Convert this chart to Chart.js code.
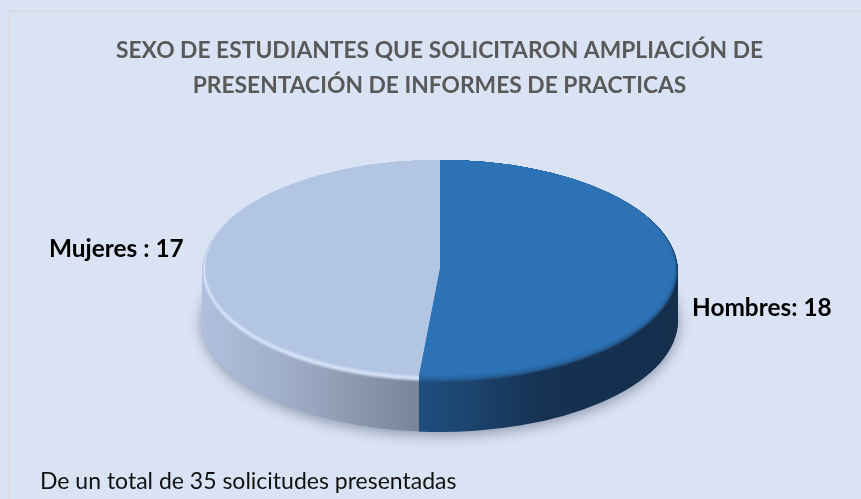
<!DOCTYPE html>
<html lang="es">
<head>
<meta charset="utf-8">
<title>Sexo de estudiantes</title>
<script src="https://cdn.jsdelivr.net/npm/chart.js@4"></script>
<style>html,body{margin:0;padding:0;background:#dae3f3;overflow:hidden}canvas{display:block}</style>
</head>
<body>
<canvas id="c" width="861" height="499"></canvas>
<script>
const categories = ["Hombres", "Mujeres"];
const values = [18, 17];
const labelTexts = ["Hombres: 18", "Mujeres : 17"];
const titleLines = ["SEXO DE ESTUDIANTES QUE SOLICITARON AMPLIACIÓN DE", "PRESENTACIÓN DE INFORMES DE PRACTICAS"];
const footerText = "De un total de 35 solicitudes presentadas";
const faceColors = ["#2c72b4", "#b2c5e2"];

// geometry of the tilted disc on the canvas (style only)
const RIM = {cx: 440, cy: 271.5, rx: 238, ry: 111.5};
const FACE = {cx: 440, cy: 267.5, rx: 234, ry: 107.5};
const DEPTH = 49;
const BEVEL_STEPS = 14;

const sideStops = [
  [[415, [31,78,127]], [470, [28,68,110]], [540, [21,50,83]], [678, [20,46,76]]],
  [[202, [176,192,222]], [300, [156,170,196]], [415, [122,134,153]]]
];
const bevelMid = [[40,100,158], [214,226,248]];
const faceRGB = [[44,114,180], [178,197,226]];

const hex = c => `rgb(${c.map(v => Math.round(v)).join(",")})`;
const mix = (a, b, t) => a.map((v, i) => v + (b[i] - v) * t);

function sideGradient(ctx, toLocal, idx, target, t) {
  const stops = sideStops[idx];
  const x0 = stops[0][0], x1 = stops[stops.length - 1][0];
  const g = ctx.createLinearGradient(toLocal(x0), 0, toLocal(x1), 0);
  stops.forEach(([x, c]) => g.addColorStop((x - x0) / (x1 - x0), hex(target ? mix(c, target, t) : c)));
  return g;
}

const disc3d = {
  id: "disc3d",
  beforeDraw(chart) {
    const {ctx, width, height} = chart;
    ctx.save();
    ctx.fillStyle = "#dae3f3";
    ctx.fillRect(0, 0, width, height);
    ctx.strokeStyle = "#dcdde4";
    ctx.lineWidth = 2;
    ctx.strokeRect(9, 11, width + 20, height + 20);
    ctx.restore();
  },
  beforeDatasetsDraw(chart) {
    const {ctx} = chart;
    const meta = chart.getDatasetMeta(0);
    const arc0 = meta.data[0];
    const r = arc0.outerRadius, cx0 = arc0.x, cy0 = arc0.y;

    function layer(g, paint) {
      ctx.save();
      ctx.translate(g.cx, g.cy);
      ctx.scale(g.rx / r, g.ry / r);
      ctx.translate(-cx0, -cy0);
      const toLocal = X => cx0 + (X - g.cx) * r / g.rx;
      meta.data.forEach((el, i) => {
        const saved = el.options.backgroundColor;
        el.options.backgroundColor = paint(i, toLocal);
        el.draw(ctx);
        el.options.backgroundColor = saved;
      });
      ctx.restore();
    }

    // side wall, with soft shadow under lowest layer
    ctx.save();
    ctx.shadowColor = "rgba(40,50,80,0.45)";
    ctx.shadowBlur = 14;
    ctx.shadowOffsetY = 3;
    layer({...RIM, cy: RIM.cy + DEPTH}, (i, tl) => sideGradient(ctx, tl, i));
    ctx.restore();
    for (let d = DEPTH - 1; d >= 0; d--) {
      layer({...RIM, cy: RIM.cy + d}, (i, tl) => sideGradient(ctx, tl, i));
    }
    // bevel between wall and face
    for (let s = 1; s <= BEVEL_STEPS; s++) {
      const t = s / BEVEL_STEPS;
      const g = {cx: RIM.cx, cy: RIM.cy + (FACE.cy - RIM.cy) * t,
                 rx: RIM.rx + (FACE.rx - RIM.rx) * t, ry: RIM.ry + (FACE.ry - RIM.ry) * t};
      layer(g, (i, tl) => {
        if (t < 0.5) return sideGradient(ctx, tl, i, bevelMid[i], Math.min(1, t * 2.2));
        return hex(mix(bevelMid[i], faceRGB[i], (t - 0.5) * 2));
      });
    }
    layer(FACE, i => faceColors[i]);
    return false;
  },
  afterDraw(chart) {
    const {ctx} = chart;
    ctx.save();
    ctx.fillStyle = "#000";
    ctx.textBaseline = "alphabetic";
    ctx.textAlign = "left";
    ctx.font = "bold 24.4px Lato, sans-serif";
    ctx.fillText(labelTexts[0], 692, 316);
    ctx.fillText(labelTexts[1], 49, 257);
    ctx.font = "23px Lato, sans-serif";
    ctx.fillStyle = "#111";
    ctx.fillText(footerText, 40, 489);
    ctx.restore();
  }
};

new Chart(document.getElementById("c"), {
  type: "pie",
  data: {
    labels: categories,
    datasets: [{data: values, backgroundColor: faceColors, borderWidth: 0}]
  },
  options: {
    responsive: false,
    animation: false,
    layout: {padding: {left: 18}},
    plugins: {
      legend: {display: false},
      tooltip: {enabled: false},
      title: {
        display: true,
        text: titleLines,
        color: "#595959",
        font: {family: "Lato, sans-serif", weight: "bold", size: 22.8, lineHeight: 1.53},
        padding: {top: 33, bottom: 10}
      }
    }
  },
  plugins: [disc3d]
});
</script>
</body>
</html>
